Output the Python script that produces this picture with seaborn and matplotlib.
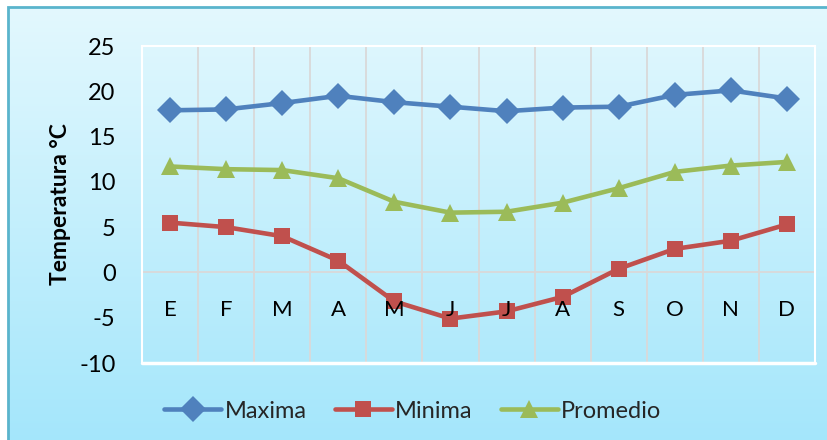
import numpy as np
import pandas as pd
import matplotlib
matplotlib.use("Agg")
import matplotlib.pyplot as plt
from matplotlib.colors import LinearSegmentedColormap
from matplotlib.lines import Line2D
from matplotlib.patches import Rectangle
import seaborn as sns

# Monthly temperatures (°C)
meses = ["E", "F", "M", "A", "M", "J", "J", "A", "S", "O", "N", "D"]
maxima = [17.9, 18.0, 18.7, 19.5, 18.8, 18.3, 17.8, 18.2, 18.3, 19.6, 20.1, 19.2]
minima = [5.5, 5.0, 4.0, 1.3, -3.2, -5.1, -4.3, -2.7, 0.4, 2.6, 3.5, 5.3]
promedio = [11.7, 11.4, 11.3, 10.4, 7.8, 6.6, 6.7, 7.7, 9.3, 11.1, 11.8, 12.2]
series = ["Maxima", "Minima", "Promedio"]
y_ticks = [-10, -5, 0, 5, 10, 15, 20, 25]

colores = {"Maxima": "#4f81bd", "Minima": "#c0504d", "Promedio": "#9bbb59"}
marcadores = {"Maxima": "D", "Minima": "s", "Promedio": "^"}
tam_marcador = {"Maxima": 13, "Minima": 12, "Promedio": 13}

sns.set_theme(style="white")
plt.rcParams["font.family"] = ["Lato", "DejaVu Sans"]

W, H = 827, 440
fig = plt.figure(figsize=(W / 100, H / 100), dpi=100)
fig.patch.set_facecolor("white")

# Gradient chart frame
bg = fig.add_axes([8 / W, -0.02, 1.0, 1 - 7 / H + 0.02], zorder=0)
cmap = LinearSegmentedColormap.from_list("fondo", ["#e3f8fe", "#a3e6fb"])
grad = np.linspace(0, 1, 256).reshape(-1, 1)
bg.imshow(grad, aspect="auto", cmap=cmap, extent=[0, 1, 0, 1], origin="upper")
bg.add_patch(Rectangle((0, 0), 1, 1, transform=bg.transAxes, fill=False,
                       edgecolor="#5ab4cc", linewidth=2.0, clip_on=False))
bg.set_axis_off()

ax = fig.add_axes([142 / W, 1 - 363 / H, (815 - 142) / W, (363 - 46) / H], zorder=1)
ax.patch.set_alpha(0)
# tick labels are drawn above the series lines
ax.set_axisbelow(False)

df = pd.DataFrame({
    "mes": np.tile(np.arange(len(meses)), 3),
    "valor": maxima + minima + promedio,
    "serie": np.repeat(series, len(meses)),
})

# category separators
for xb in np.arange(len(meses) - 1) + 0.5:
    ax.axvline(xb, color="#d9d9d9", linewidth=1.3, zorder=1)
ax.axhline(0, color="#d9d9d9", linewidth=1.3, zorder=1)

for s in series:
    sub = df[df["serie"] == s]
    sns.lineplot(data=sub, x="mes", y="valor", ax=ax, color=colores[s],
                 marker=marcadores[s], markersize=tam_marcador[s],
                 markeredgewidth=0, linewidth=3.3, legend=False, zorder=2)

ax.set_xlim(-0.5, len(meses) - 0.5)
ax.set_ylim(-10, 25)
ax.set_xticks(np.arange(len(meses)))
ax.set_xticklabels(meses)
ax.set_yticks(y_ticks)
ax.set_yticklabels([str(t) for t in y_ticks])
ax.grid(False)
ax.set_xlabel("")

for side in ["top", "left", "right"]:
    ax.spines[side].set_color("white")
    ax.spines[side].set_linewidth(1.5)
    ax.spines[side].set_zorder(1)
ax.spines["bottom"].set_position(("data", 0))
ax.spines["bottom"].set_visible(False)
# white frame line along the bottom of the plot area
ax.axhline(-10, color="white", linewidth=2.5, zorder=1, clip_on=False)

ax.tick_params(axis="x", which="both", length=0, pad=20, labelsize=16, labelcolor="black")
ax.tick_params(axis="y", length=0, pad=19, labelsize=17, labelcolor="black")

ax.set_ylabel("Temperatura °C", fontsize=16.5, fontweight="bold", color="black")
ax.yaxis.set_label_coords(-0.105, 0.5)

handles = [Line2D([], [], color=colores[s], marker=marcadores[s], markersize=tam_marcador[s],
                  markeredgewidth=0, linewidth=3.3) for s in series]
fig.legend(handles, series, loc="center", bbox_to_anchor=(413 / W, 1 - 411 / H), ncol=3,
           frameon=False, fontsize=17, handlelength=2.4, handletextpad=0.15, columnspacing=1.2)

fig.savefig("out.png", dpi=100)
